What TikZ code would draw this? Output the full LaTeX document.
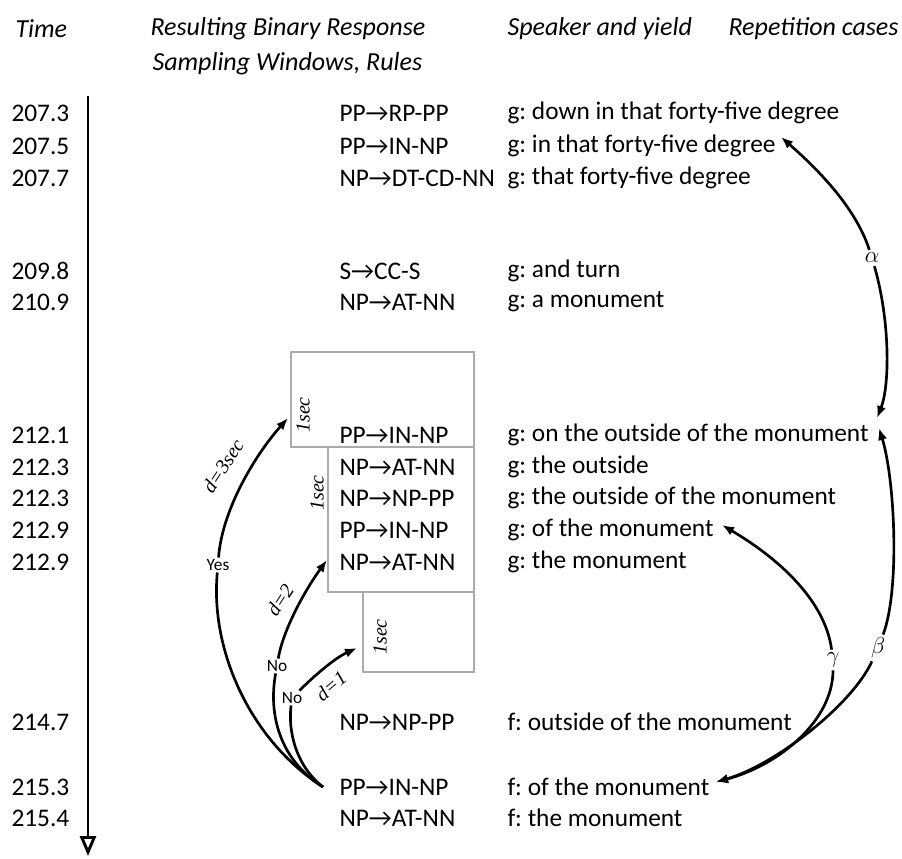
\documentclass[tikz,border=0pt]{standalone}
\usepackage{fontspec}
\setmainfont{Carlito}
\newfontfamily\tnr{Liberation Serif}
\usetikzlibrary{arrows.meta}
\frenchspacing

\tikzset{every picture/.style={line width=0.75pt}}
\tikzset{
  rowtxt/.style={anchor=west, inner sep=0.75pt, font=\fontsize{19}{22}\selectfont},
  headtxt/.style={inner sep=0.75pt, font=\fontsize{19.5}{23}\selectfont\itshape},
  secwin/.style={draw=black!33, line width=1.9pt},
  seclbl/.style={inner sep=0.75pt, rotate=90, font=\fontsize{15}{18}\selectfont\tnr\itshape},
  dlbl/.style={inner sep=0.75pt, font=\fontsize{15}{18}\selectfont\tnr\itshape},
  yn/.style={fill=white, inner sep=1pt, font=\fontsize{13}{15}\selectfont},
  greek/.style={inner sep=2pt, font=\fontsize{19}{22}\selectfont},
  arc/.style={line width=2pt},
  hop/.style={line width=2pt, -{Latex[length=9pt,width=7pt]}},
  timeax/.style={line width=2.2pt, -{Triangle[open,length=15pt,width=12pt]}},
}

\begin{document}
\begin{tikzpicture}[x=0.75pt,y=0.75pt,yscale=-1,xscale=1]
\useasboundingbox (0,0) rectangle (902,859);

% Text Node
\node [headtxt, anchor=west] (hTime) at (14,29) {Time};
% Text Node
\node [headtxt, anchor=west] (hRes) at (149,29) {Resulting Binary Response};
% Text Node
\node [headtxt, anchor=west] (hSamp) at (151,64) {Sampling Windows, Rules};
% Text Node
\node [headtxt, anchor=west] (hSpk) at (506,29) {Speaker and yield};
% Text Node
\node [headtxt, anchor=east] (hRep) at (900,29) {Repetition cases};

%Straight Lines
\coordinate (axtop) at (88,96);
\coordinate (axend) at (88,856);
\draw [timeax] (axtop) -- (axend);

% Text Node
\node [rowtxt] (tm1) at (10,113) {207.3};
\node [rowtxt] (ru1) at (338,113) {PP→RP-PP};
\node [rowtxt] (yd1) at (506,113) {g: down in that forty-five degree};
% Text Node
\node [rowtxt] (tm2) at (10,146) {207.5};
\node [rowtxt] (ru2) at (338,146) {PP→IN-NP};
\node [rowtxt] (yd2) at (506,146) {g: in that forty-five degree};
% Text Node
\node [rowtxt] (tm3) at (10,178) {207.7};
\node [rowtxt] (ru3) at (338,178) {NP→DT-CD-NN};
\node [rowtxt] (yd3) at (506,178) {g: that forty-five degree};
% Text Node
\node [rowtxt] (tm4) at (10,271) {209.8};
\node [rowtxt] (ru4) at (338,271) {S→CC-S};
\node [rowtxt] (yd4) at (506,271) {g: and turn};
% Text Node
\node [rowtxt] (tm5) at (10,302) {210.9};
\node [rowtxt] (ru5) at (338,302) {NP→AT-NN};
\node [rowtxt] (yd5) at (506,302) {g: a monument};
% Text Node
\node [rowtxt] (tm6) at (10,435) {212.1};
\node [rowtxt] (ru6) at (338,435) {PP→IN-NP};
\node [rowtxt] (yd6) at (506,435) {g: on the outside of the monument};
% Text Node
\node [rowtxt] (tm7) at (10,467) {212.3};
\node [rowtxt] (ru7) at (338,467) {NP→AT-NN};
\node [rowtxt] (yd7) at (506,467) {g: the outside};
% Text Node
\node [rowtxt] (tm8) at (10,498) {212.3};
\node [rowtxt] (ru8) at (338,498) {NP→NP-PP};
\node [rowtxt] (yd8) at (506,498) {g: the outside of the monument};
% Text Node
\node [rowtxt] (tm9) at (10,530) {212.9};
\node [rowtxt] (ru9) at (338,530) {PP→IN-NP};
\node [rowtxt] (yd9) at (506,530) {g: of the monument};
% Text Node
\node [rowtxt] (tm10) at (10,562) {212.9};
\node [rowtxt] (ru10) at (338,562) {NP→AT-NN};
\node [rowtxt] (yd10) at (506,562) {g: the monument};
% Text Node
\node [rowtxt] (tm11) at (10,722) {214.7};
\node [rowtxt] (ru11) at (338,722) {NP→NP-PP};
\node [rowtxt] (yd11) at (506,722) {f: outside of the monument};
% Text Node
\node [rowtxt] (tm12) at (10,787) {215.3};
\node [rowtxt] (ru12) at (338,787) {PP→IN-NP};
\node [rowtxt] (yd12) at (506,787) {f: of the monument};
% Text Node
\node [rowtxt] (tm13) at (10,818) {215.4};
\node [rowtxt] (ru13) at (338,818) {NP→AT-NN};
\node [rowtxt] (yd13) at (506,818) {f: the monument};

%Shape: Rectangle
\draw [secwin] (291,352) rectangle (474,447);
%Shape: Rectangle
\draw [secwin] (328,447) rectangle (474,592);
%Shape: Rectangle
\draw [secwin] (363,592) rectangle (474,672);

% Text Node
\node [seclbl] (sec3) at (303,415) {1sec};
\node [seclbl] (sec2) at (317,493) {1sec};
\node [seclbl] (sec1) at (380,637) {1sec};

% Text Node
\node [yn] (yes) at (218,565) {Yes};
\node [yn] (no2) at (277,666) {No};
\node [yn] (no1) at (292,698) {No};
% Text Node
\node [dlbl, rotate=57] (d3) at (223,466) {d=3sec};
\node [dlbl, rotate=57] (d2) at (280,600) {d=2};
\node [dlbl, rotate=40] (d1) at (331,686) {d=1};

\coordinate (src) at (323,787);
\coordinate (in3) at (288,418);
\coordinate (in2) at (327,560);
\coordinate (in1) at (357,648);

%Curve Lines
\draw [arc] (src) .. controls (250,740) and (210,650) .. (yes);
\draw [hop] (yes) .. controls (222,510) and (255,455) .. (in3);
%Curve Lines
\draw [arc] (src) .. controls (280,760) and (268,715) .. (no2);
\draw [hop] (no2) .. controls (283,630) and (305,590) .. (in2);
%Curve Lines
\draw [arc] (src) .. controls (295,765) and (288,730) .. (no1);
\draw [hop] (no1) .. controls (315,675) and (335,658) .. (in1);

% Text Node
\node [greek] (alph) at (872,258) {$\alpha$};
\node [greek] (bet) at (878,648) {$\beta$};
\node [greek] (gam) at (833,660) {$\gamma$};

\coordinate (a1) at (781,137);
\coordinate (a2) at (877,418);
\coordinate (b1) at (879,428);
\coordinate (b2) at (716,782);
\coordinate (g1) at (722,525);

%Curve Lines
\draw [hop] (alph) .. controls (858,215) and (830,180) .. (a1);
\draw [hop] (alph) .. controls (890,320) and (890,385) .. (a2);
%Curve Lines
\draw [hop] (bet) .. controls (900,590) and (895,480) .. (b1);
\draw [hop] (bet) .. controls (852,705) and (775,765) .. (b2);
%Curve Lines
\draw [hop] (gam) .. controls (825,600) and (778,558) .. (g1);
\draw [hop] (gam) .. controls (833,720) and (780,765) .. (b2);

\end{tikzpicture}
\end{document}
